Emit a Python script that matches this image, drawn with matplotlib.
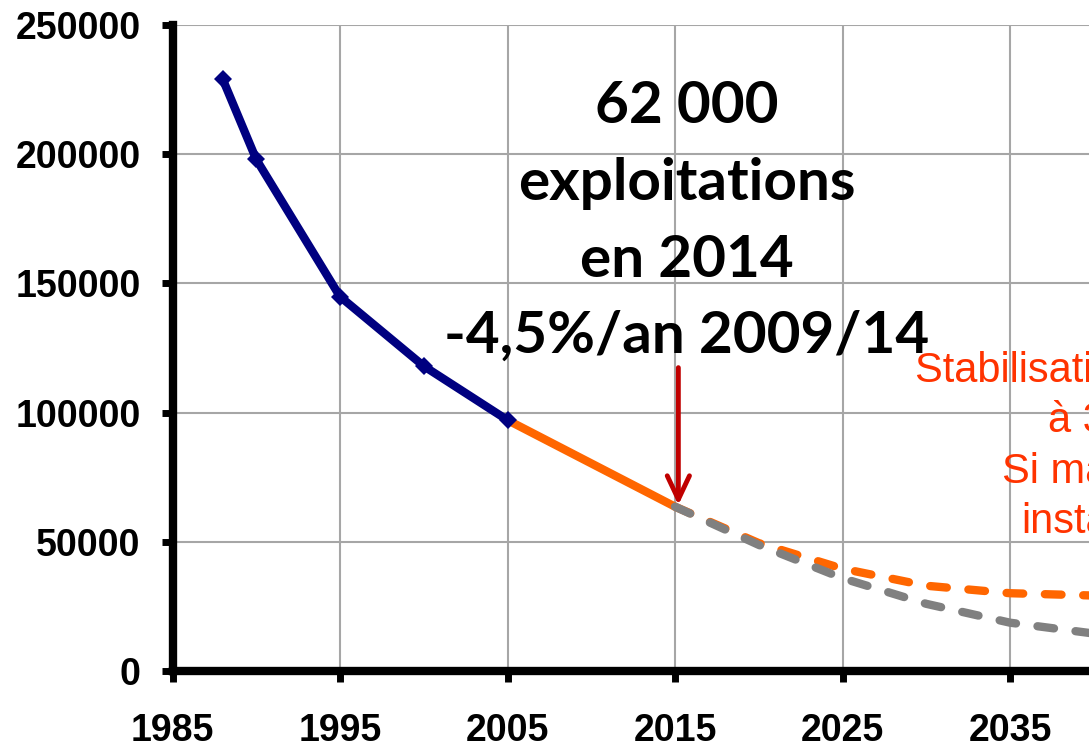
import matplotlib
matplotlib.use("Agg")
import matplotlib.pyplot as plt
from matplotlib import font_manager as fm

# ---- data ----
hist_years = [1988, 1990, 1995, 2000, 2005]
hist_values = [229000, 198000, 144900, 118000, 97100]

recent_years = [2005, 2015]
recent_values = [97100, 63600]

proj_years = [2015, 2020, 2025, 2030, 2035, 2040]
proj_stab_values = [63600, 49500, 39600, 33000, 30100, 29200]
proj_trend_values = [63600, 48800, 35900, 26000, 18700, 14500]

x_ticks = [1985, 1995, 2005, 2015, 2025, 2035]
y_ticks = [0, 50000, 100000, 150000, 200000, 250000]

main_lines = ["62 000", "exploitations", "en 2014", "-4,5%/an 2009/14"]
red_lines = ["Stabilisation des exploitations", "à 30 000", "Si maintien des", "installations"]

available = {f.name for f in fm.fontManager.ttflist}
narrow = "Liberation Sans Narrow" if "Liberation Sans Narrow" in available else "Liberation Sans"

W, H = 1089, 747
fig = plt.figure(figsize=(W / 100, H / 100), dpi=100)
left = 172.5 / W
bottom = (H - 671) / H
top = (H - 25) / H
ax = fig.add_axes([left, bottom, 1 - left, top - bottom])

ax.set_xlim(1985, 1985 + (W - 172.5) / 16.75)
ax.set_ylim(0, 250000)

grid_c = "#A6A6A6"
ax.set_axisbelow(True)
ax.grid(True, color=grid_c, linewidth=1.5)

ax.plot(hist_years, hist_values, color="#000080", linewidth=6, marker="D",
        markersize=9, markeredgewidth=0, zorder=4, solid_joinstyle="miter")
ax.plot(recent_years, recent_values, color="#FF6600", linewidth=6, zorder=3,
        solid_capstyle="butt")
ax.plot(proj_years, proj_stab_values, color="#FF6600", linewidth=6,
        dashes=(2.0, 2.6), dash_capstyle="round", zorder=3)
ax.plot(proj_years, proj_trend_values, color="#808080", linewidth=6,
        dashes=(2.0, 2.6), dash_capstyle="round", zorder=3.5)

ax.annotate("", xy=(2015.2, 64200), xytext=(2015.2, 117400),
            arrowprops=dict(arrowstyle="->,head_length=1.7,head_width=0.8",
                            color="#C00000", linewidth=3.5, shrinkA=0, shrinkB=0),
            zorder=5)

for s in ["top", "right"]:
    ax.spines[s].set_visible(False)
for s in ["left", "bottom"]:
    ax.spines[s].set_linewidth(6)
    ax.spines[s].set_color("black")

ax.set_xticks(x_ticks)
ax.set_yticks(y_ticks)
ax.set_xticklabels([str(v) for v in x_ticks])
ax.set_yticklabels([str(v) for v in y_ticks])
ax.tick_params(axis="both", direction="out", length=8, width=5, color="black")
ax.tick_params(axis="x", pad=22)
ax.tick_params(axis="y", pad=15)
for lab in ax.get_xticklabels() + ax.get_yticklabels():
    lab.set_fontfamily("Liberation Sans")
    lab.set_fontweight("bold")
    lab.set_fontsize(27)

baselines = [123, 200, 277, 353]
for txt, yb in zip(main_lines, baselines):
    fig.text(686.5 / W, (H - yb) / H, txt, ha="center", va="baseline",
             fontsize=42, fontweight="bold", family=["Lato", "DejaVu Sans"],
             color="black", zorder=6)

red_pos = [(915, 382), (1048, 432), (1001.7, 483), (1021.7, 533)]
for txt, (xp, yb) in zip(red_lines, red_pos):
    fig.text(xp / W, (H - yb) / H, txt, ha="left", va="baseline",
             fontsize=30, family=[narrow, "DejaVu Sans"], color="#FF3300", zorder=6)

fig.savefig("out.png", dpi=100)
